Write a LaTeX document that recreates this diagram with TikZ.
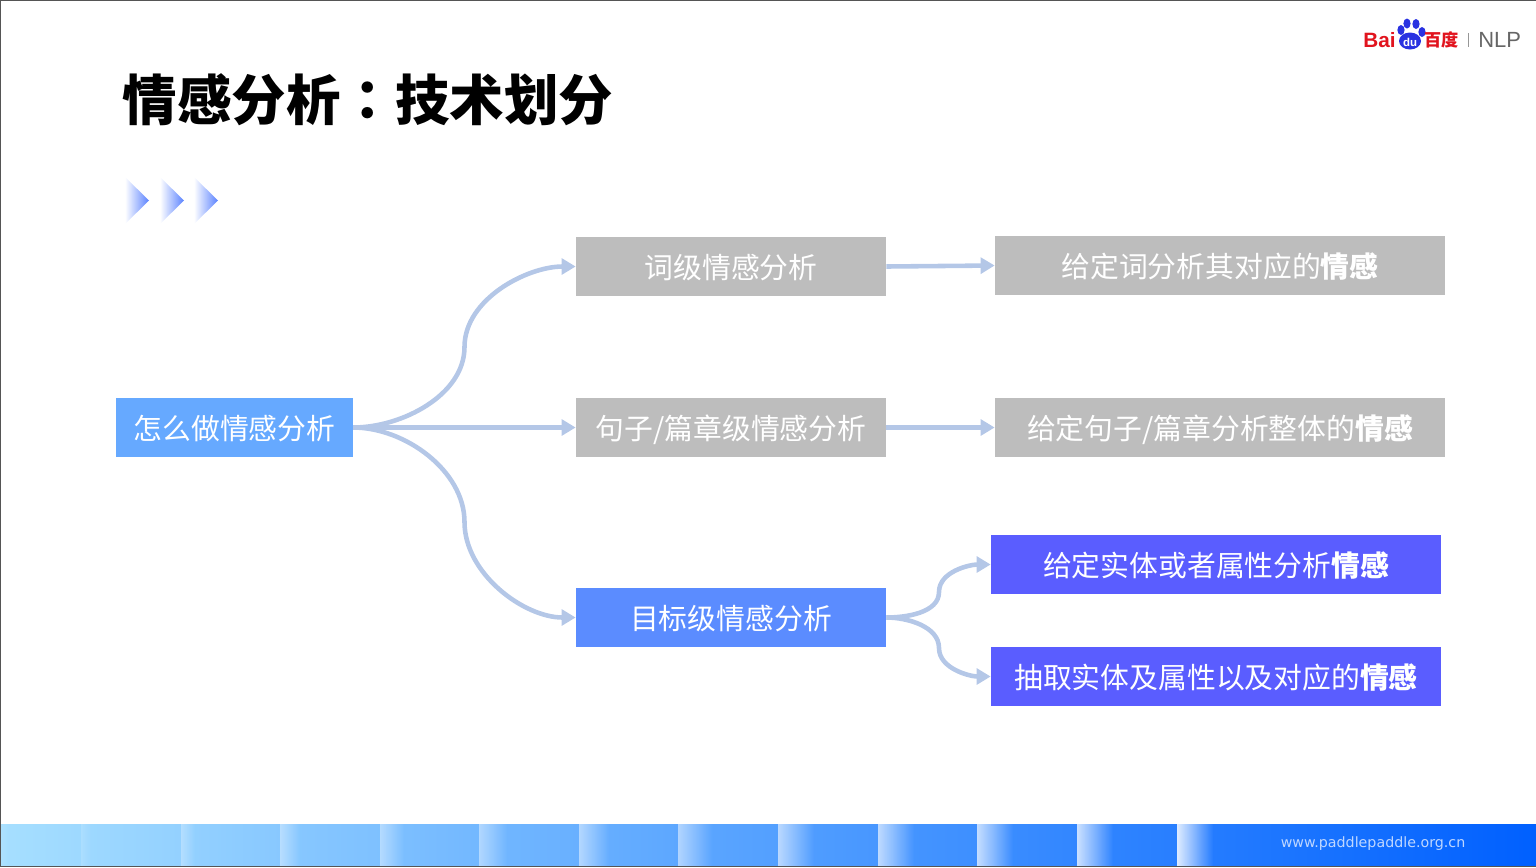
\documentclass[tikz,border=0pt]{standalone}
\usepackage{fontspec}
\usepackage{xcolor}
\usetikzlibrary{arrows.meta}
\usetikzlibrary{fadings}
\setmainfont{Noto Sans CJK SC}
\newfontfamily\colonfont{Noto Sans CJK TC}
\newfontfamily\logofont{Liberation Sans}
\newfontfamily\urlfont{DejaVu Sans}

\definecolor{linkblue}{HTML}{B4C7E7}
\definecolor{boxgray}{HTML}{BDBDBD}
\definecolor{rootblue}{HTML}{66A9FF}
\definecolor{targetblue}{HTML}{5B8CFF}
\definecolor{leafviolet}{HTML}{5A5DFF}
\definecolor{chevblue}{HTML}{5A82FF}
\definecolor{bandlight}{HTML}{A6DFFF}
\definecolor{banddeep}{HTML}{0060FF}
\definecolor{logored}{HTML}{E1141E}
\definecolor{logoblue}{HTML}{2932E1}
\definecolor{framegray}{HTML}{555555}

\tikzset{
  labelbox/.style={inner sep=0pt, minimum height=1.18cm, text=white, text height=15pt, text depth=1pt, font=\fontsize{16.4pt}{18pt}\selectfont},
  methodbox/.style={labelbox, minimum width=6.2cm},
  taskbox/.style={labelbox, minimum width=9cm},
  link/.style={draw=linkblue, line width=2.6pt, -{Triangle[length=8pt,width=9pt]}},
}

\begin{document}
\begin{tikzpicture}[x=0.02cm,y=-0.02cm]
  \useasboundingbox (0,0) rectangle (1536,867);

  % Footer band
  \foreach \xa/\xb/\glow/\wide in {1/81/0.08/8, 81/181/0.15/10, 181/280/0.3/14, 280/380/0.4/20, 380/479/0.42/24, 479/579/0.45/28, 579/678/0.5/30, 678/778/0.52/34, 778/878/0.6/36, 878/977/0.65/36, 977/1077/0.7/36, 1077/1177/0.75/36, 1177/1536/0.85/36} {
    \pgfmathtruncatemacro{\mixa}{\xa/15.36}
    \pgfmathtruncatemacro{\mixb}{\xb/15.36}
    \shade[left color=banddeep!\mixa!bandlight, right color=banddeep!\mixb!bandlight] (\xa,824) rectangle (\xb,866);
    \fill[white, opacity=\glow, path fading=east] (\xa,824) rectangle (\xa+\wide,866);
  }
  \node[text=white!75!banddeep, font=\urlfont\fontsize{8.1pt}{9pt}\selectfont] (url) at (1373,844) {www.paddlepaddle.org.cn};

  % Frame
  \draw[framegray, line width=0.6pt] (0,866.5) -- (0.5,866.5) -- (0.5,0.5) -- (1536,0.5);
  \draw[framegray, line width=0.6pt] (0,866.5) -- (1536,866.5);

  % Logo
  \node[text=logored, font=\logofont\bfseries\fontsize{11.8pt}{14pt}\selectfont, anchor=east, inner sep=0pt] (bai) at (1396,40) {Bai};
  \fill[logoblue] (1401,30) ellipse (3.6 and 5);
  \fill[logoblue] (1407,23.5) ellipse (3.6 and 5);
  \fill[logoblue] (1416,24) ellipse (3.6 and 5);
  \fill[logoblue] (1422,32) ellipse (3.6 and 5);
  \fill[logoblue] (1410,41) ellipse (11 and 8.5);
  \node[text=white, font=\logofont\bfseries\fontsize{6.5pt}{7pt}\selectfont, inner sep=0pt] (du) at (1410,42) {du};
  \node[text=logored, font=\bfseries\fontsize{9.8pt}{11pt}\selectfont, anchor=west, inner sep=0pt] (baidu) at (1424,40) {百度};
  \draw[boxgray!80!black, line width=0.5pt] (1468,33) -- (1468,47);
  \node[text=black!60, font=\logofont\fontsize{12.5pt}{14pt}\selectfont, anchor=west, inner sep=0pt] (nlp) at (1478,40) {NLP};

  % Title
  \node[anchor=west, inner sep=0pt, font=\bfseries\fontsize{31pt}{34pt}\selectfont] (title) at (122.5,100) {情感分析{\colonfont：}技术划分};

  % Chevrons
  \foreach \x in {125,160,194} {
    \fill[chevblue, path fading=west] (\x,177) -- (\x+24,200.5) -- (\x,224) -- cycle;
  }

  % Boxes
  \node[labelbox, minimum width=4.74cm, fill=rootblue] (how) at (234.5,427.5) {怎么做情感分析};
  \node[methodbox, fill=boxgray] (word) at (731,266.5) {词级情感分析};
  \node[methodbox, fill=boxgray] (sent) at (731,427.5) {句子/篇章级情感分析};
  \node[methodbox, fill=targetblue] (target) at (731,617.5) {目标级情感分析};
  \node[taskbox, fill=boxgray] (wordtask) at (1220,265.5) {给定词分析其对应的\textbf{情感}};
  \node[taskbox, fill=boxgray] (senttask) at (1220,427.5) {给定句子/篇章分析整体的\textbf{情感}};
  \node[taskbox, fill=leafviolet] (givetask) at (1216,564.5) {给定实体或者属性分析\textbf{情感}};
  \node[taskbox, fill=leafviolet] (picktask) at (1216,676.5) {抽取实体及属性以及对应的\textbf{情感}};

  % Bends of the curved links
  \coordinate (upbend) at (464.5,347);
  \coordinate (downbend) at (464.5,522);
  \coordinate (giveturn) at (939,592);
  \coordinate (pickturn) at (939,648);

  % Links
  \draw[link] (how.east) to[out=0,in=-90,looseness=0.9] (upbend) to[out=90,in=180,looseness=0.9] (word.west);
  \draw[link] (how.east) -- (sent.west);
  \draw[link] (how.east) to[out=0,in=90,looseness=0.9] (downbend) to[out=-90,in=180,looseness=0.9] (target.west);
  \draw[link] (word.east) -- (wordtask.west);
  \draw[link] (sent.east) -- (senttask.west);
  \draw[link] (target.east) to[out=0,in=-90,looseness=0.9] (giveturn) to[out=90,in=180,looseness=0.9] (givetask.west);
  \draw[link] (target.east) to[out=0,in=90,looseness=0.9] (pickturn) to[out=-90,in=180,looseness=0.9] (picktask.west);
\end{tikzpicture}
\end{document}
